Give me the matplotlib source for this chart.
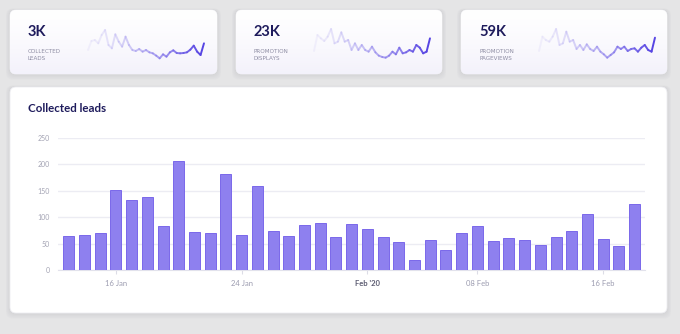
import numpy as np
import matplotlib
matplotlib.use("Agg")
import matplotlib.pyplot as plt
import matplotlib.dates as mdates
from matplotlib.patches import FancyBboxPatch
from matplotlib.collections import LineCollection
import datetime as dt

plt.rcParams['font.family'] = ['Lato', 'DejaVu Sans']

# dados do grafico de barras (um valor por dia)
inicio = dt.date(2020, 1, 13)
leads = [65, 66, 69, 152, 132, 138, 83, 206, 71, 69, 181, 67, 158, 73, 65, 85, 89,
         62, 86, 78, 62, 52, 18, 56, 38, 69, 84, 55, 61, 56, 47, 62, 74, 106, 58, 46, 125]
dias = [inicio + dt.timedelta(days=i) for i in range(len(leads))]
ticks_x = [dt.date(2020, 1, 16), dt.date(2020, 1, 24), dt.date(2020, 2, 1),
           dt.date(2020, 2, 8), dt.date(2020, 2, 16)]
rotulos_x = ["16 Jan", "24 Jan", "Feb '20", "08 Feb", "16 Feb"]
ticks_y = [0, 50, 100, 150, 200, 250]

# cartoes de resumo
cartoes_valor = ["3K", "23K", "59K"]
cartoes_rotulo = ["COLLECTED\nLEADS", "PROMOTION\nDISPLAYS", "PROMOTION\nPAGEVIEWS"]
spark_leads = [39, 66, 69, 59, 84, 99, 54, 44, 86, 64, 49, 79, 54, 39, 36, 42, 34, 39,
               32, 29, 22, 14, 26, 19, 32, 38, 30, 29, 30, 32, 40, 52, 34, 24, 59]
spark_displays = [36, 84, 74, 66, 79, 102, 59, 64, 92, 64, 69, 39, 59, 39, 54, 39, 34, 49,
                  32, 22, 18, 16, 22, 34, 26, 46, 29, 32, 39, 34, 54, 46, 29, 34, 74]
spark_pageviews = [36, 79, 69, 64, 79, 102, 54, 59, 94, 64, 69, 42, 54, 39, 56, 42, 36, 49,
                   34, 26, 16, 24, 32, 49, 42, 49, 36, 42, 44, 34, 46, 54, 39, 34, 76]
sparks = [spark_leads, spark_displays, spark_pageviews]

W, H = 680, 334
navy = '#1e1b5c'
roxo = '#8e80ef'


def caixa(x0, y0, x1, y1):
    # converte pixels (origem no topo) para fracao da figura
    return [x0 / W, 1 - y1 / H, (x1 - x0) / W, (y1 - y0) / H]


fig = plt.figure(figsize=(6.8, 3.34), dpi=100)
fig.patch.set_facecolor('#e5e5e6')

fundo = fig.add_axes([0, 0, 1, 1])
fundo.set_xlim(0, W)
fundo.set_ylim(H, 0)
fundo.axis('off')


def cartao(x0, y0, x1, y1, degrade=False):
    # sombra suave
    for k in range(5, 0, -1):
        fundo.add_patch(FancyBboxPatch((x0 - k * 0.8, y0 - k * 0.3), x1 - x0 + k * 1.6,
                                       y1 - y0 + k * 1.4,
                                       boxstyle="round,pad=0,rounding_size=7",
                                       fc='#b8b8bc', ec='none', alpha=0.07))
    p = FancyBboxPatch((x0, y0), x1 - x0, y1 - y0,
                       boxstyle="round,pad=0,rounding_size=6",
                       fc='white', ec='#eeeef2', lw=0.6)
    fundo.add_patch(p)
    if degrade:
        g = np.linspace(0, 1, 64).reshape(-1, 1)
        topo = np.array([1.0, 1.0, 1.0])
        base = np.array([0.955, 0.948, 0.985])
        img = topo + (base - topo) * g[..., None] ** 1.3
        im = fundo.imshow(img * np.ones((1, 2, 1)), extent=(x0, x1, y1, y0),
                          aspect='auto', interpolation='bilinear', zorder=1)
        im.set_clip_path(p)
        fundo.set_xlim(0, W)
        fundo.set_ylim(H, 0)


posicoes = [(10, 217), (236, 442), (461, 667)]
for i, (x0, x1) in enumerate(posicoes):
    cartao(x0, 10, x1, 74, degrade=True)
    fundo.text(x0 + 18, 32, cartoes_valor[i], fontsize=10.5, fontweight='bold',
               color=navy, va='center', ha='left', zorder=5)
    fundo.text(x0 + 18, 55, cartoes_rotulo[i], fontsize=4.1, color='#8d8ca3',
               family='DejaVu Sans', va='center', ha='left', linespacing=1.6, zorder=5)

    # sparkline com degrade
    sp = fig.add_axes(caixa(x0 + 77, 25, x0 + 195, 63))
    sp.axis('off')
    s = sparks[i]
    xs = np.arange(len(s))
    pts = np.column_stack([xs, s]).reshape(-1, 1, 2)
    segs = np.concatenate([pts[:-1], pts[1:]], axis=1)
    t = np.linspace(0, 1, len(segs))
    cores = np.zeros((len(segs), 4))
    cores[:, 0] = 0.34 + 0.52 * (1 - t)
    cores[:, 1] = 0.27 + 0.57 * (1 - t)
    cores[:, 2] = 0.89 + 0.08 * (1 - t)
    cores[:, 3] = 0.3 + 0.7 * t
    lc = LineCollection(segs, colors=cores, linewidths=1.4, capstyle='round',
                        joinstyle='round')
    sp.add_collection(lc)
    sp.set_xlim(-0.3, len(s) - 0.7)
    sp.set_ylim(0, 114)

# cartao principal
cartao(10, 87, 667, 313)
fundo.text(28, 108, "Collected leads", fontsize=8.3, fontweight='bold', color=navy,
           va='center', ha='left')

ax = fig.add_axes(caixa(58, 137.7, 645, 270))
ax.set_facecolor('none')
ax.bar(dias, leads, width=0.7, color=roxo, edgecolor='#7a68ea', linewidth=0.7, zorder=3)
ax.set_ylim(0, 250)
ax.set_xlim(mdates.date2num(inicio) - 0.68, mdates.date2num(dias[-1]) + 0.66)
ax.set_yticks(ticks_y)
ax.set_yticklabels([str(v) for v in ticks_y])
ax.set_xticks(ticks_x)
ax.set_xticklabels(rotulos_x)
ax.grid(axis='y', color='#ececf3', linewidth=1, zorder=0)
for lado in ['top', 'right', 'left']:
    ax.spines[lado].set_visible(False)
ax.spines['bottom'].set_color('#e2e2ec')
ax.tick_params(axis='y', length=0, pad=6, labelsize=5, labelcolor='#a3a3b3')
ax.tick_params(axis='x', length=3, color='#dcdce6', pad=4, labelsize=5.5,
               labelcolor='#9c9cb0')
for lab in ax.get_xticklabels():
    if lab.get_text() == "Feb '20":
        lab.set_color('#5c5c72')
        lab.set_fontweight('bold')

fig.savefig('out.png', dpi=100)
